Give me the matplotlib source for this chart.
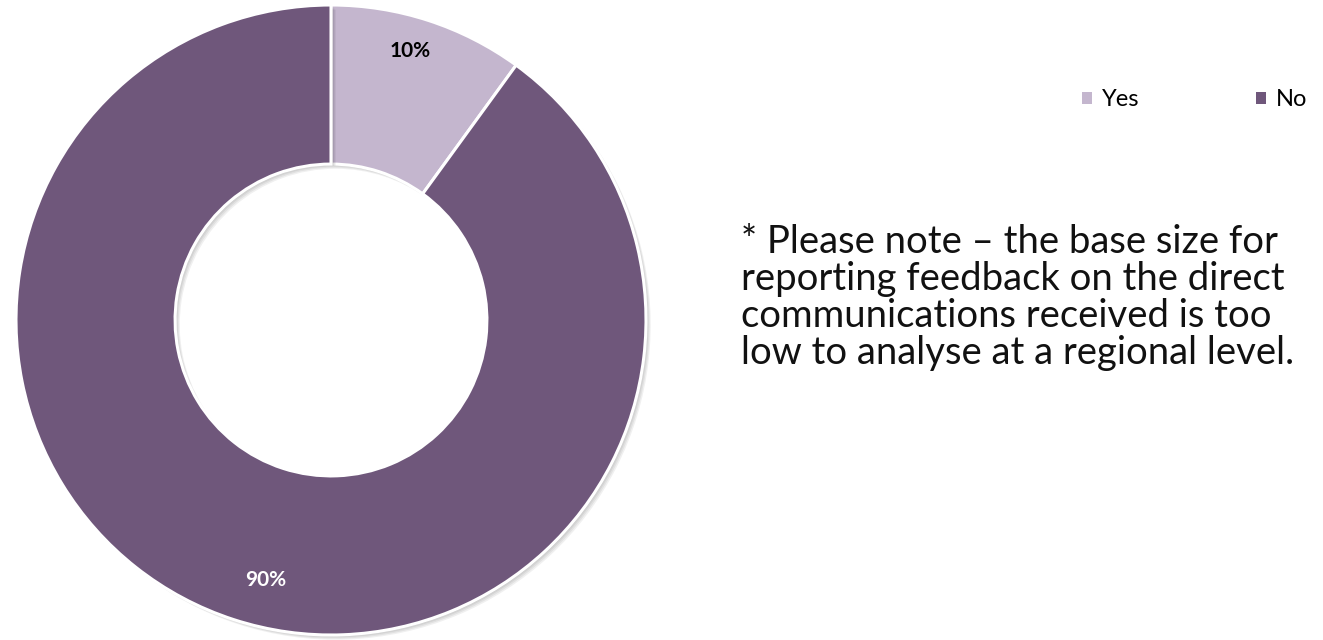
import matplotlib
matplotlib.use("Agg")
import matplotlib.pyplot as plt
import matplotlib.patheffects as pe
from matplotlib.patches import Patch

labels = ["Yes", "No"]
shares = [10, 90]
colors = ["#C4B6CE", "#6F577B"]
note = ("* Please note \u2013 the base size for\n"
        "reporting feedback on the direct\n"
        "communications received is too\n"
        "low to analyse at a regional level.")

plt.rcParams["font.family"] = ["Lato", "DejaVu Sans"]

W, H = 1323, 640
fig = plt.figure(figsize=(W / 100, H / 100), dpi=100)
ax = fig.add_axes([0, 0, 1, 1])

# soft drop shadow made of a few stacked offsets
shadow = [pe.SimplePatchShadow(offset=(d, -d), shadow_rgbFace="black", alpha=0.06)
          for d in (1.0, 1.8, 2.6, 3.4)]

R = 315
wedges, texts, autotexts = ax.pie(
    shares, colors=colors, startangle=90, counterclock=False,
    center=(331, 320), radius=R,
    autopct=lambda p: f"{p:.0f}%", pctdistance=0.88,
    wedgeprops=dict(width=R * 0.505, edgecolor="white", linewidth=2.2,
                    path_effects=shadow + [pe.Normal()]),
    textprops=dict(fontsize=15, fontweight="bold"))
autotexts[0].set_color("black")
autotexts[1].set_color("white")
# nudge the labels a little towards where the wedge reads best
x0, y0 = autotexts[0].get_position()
autotexts[0].set_position((x0 - 7, y0 + 5))
x1, y1 = autotexts[1].get_position()
autotexts[1].set_position((x1 + 20, y1 + 4))

ax.set_xlim(0, W)
ax.set_ylim(0, H)
ax.set_aspect("equal")
ax.axis("off")

handles = [Patch(facecolor=c, edgecolor="none") for c in colors]
fig.legend(handles, labels, loc="center left", bbox_to_anchor=(1070 / W, 1 - 100 / H),
           ncol=2, frameon=False, fontsize=17, handlelength=0.45, handleheight=0.45,
           handletextpad=0.42, columnspacing=4.9, borderpad=0)

fig.text(741 / W, 1 - 224 / H, note, ha="left", va="top", fontsize=27.5,
         linespacing=1.03, color="#111111")

fig.savefig("out.png", dpi=100)
